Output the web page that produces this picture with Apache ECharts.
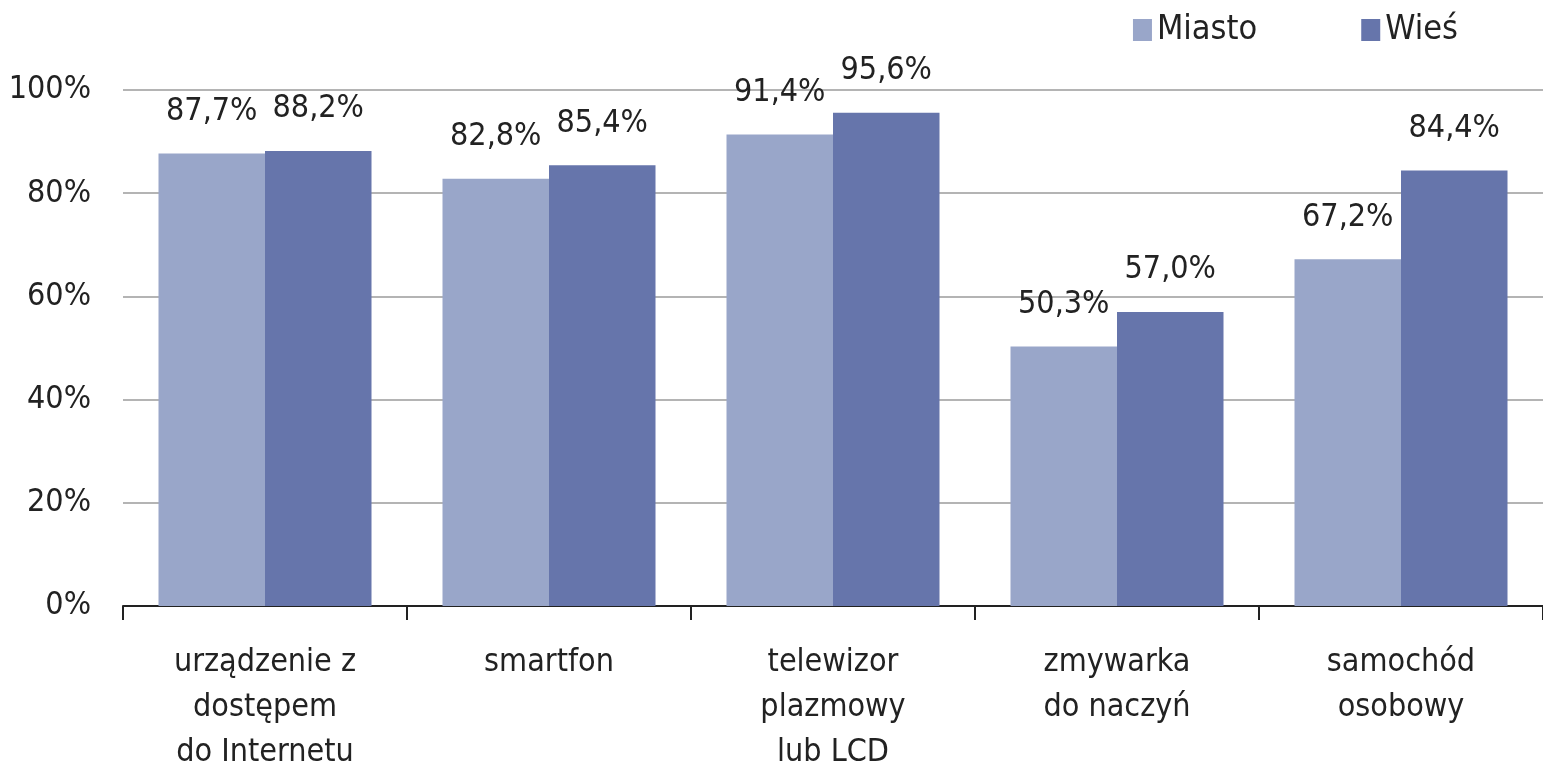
<!DOCTYPE html>
<html>
<head>
<meta charset="utf-8">
<script src="https://cdn.jsdelivr.net/npm/echarts@6/dist/echarts.min.js"></script>
<style>
  html, body { margin: 0; padding: 0; background: #fff; }
  #chart { width: 1543px; height: 769px; }
</style>
</head>
<body>
<div id="chart"></div>
<script>
// kategorie i dane
const categories = [
  'urządzenie z\ndostępem\ndo Internetu',
  'smartfon',
  'telewizor\nplazmowy\nlub LCD',
  'zmywarka\ndo naczyń',
  'samochód\nosobowy'
]
const miasto = [87.7, 82.8, 91.4, 50.3, 67.2]
const wies = [88.2, 85.4, 95.6, 57.0, 84.4]

const font = '"Liberation Sans Narrow", "DejaVu Sans Condensed", "Noto Sans", sans-serif'
const textColor = '#222'
const fs = 32

const fmt = (p) => p.value.toFixed(1).replace('.', ',') + '%'

const chart = echarts.init(document.getElementById('chart'))

chart.setOption({
  animation: false,
  textStyle: { fontFamily: font },
  legend: {
    top: 8,
    right: 80,
    itemWidth: 19,
    itemHeight: 22,
    itemGap: 104,
    icon: 'rect',
    textStyle: { fontFamily: font, fontSize: 34, color: textColor },
    data: ['Miasto', 'Wieś']
  },
  grid: {
    left: 123,
    right: 0,
    top: 90,
    bottom: 163,
    outerBoundsMode: 'none'
  },
  xAxis: {
    type: 'category',
    data: categories,
    axisLine: { lineStyle: { color: '#222', width: 2 } },
    axisTick: { show: true, length: 14, lineStyle: { color: '#222', width: 2 } },
    axisLabel: {
      fontFamily: font,
      fontSize: fs,
      color: textColor,
      lineHeight: 45,
      margin: 34,
      interval: 0
    }
  },
  yAxis: {
    type: 'value',
    min: 0,
    max: 100,
    interval: 20,
    axisLine: { show: false },
    axisTick: { show: false },
    splitLine: { lineStyle: { color: '#b4b4b4', width: 2 } },
    axisLabel: {
      fontFamily: font,
      fontSize: fs,
      color: textColor,
      margin: 32,
      formatter: '{value}%'
    }
  },
  series: [
    {
      name: 'Miasto',
      type: 'bar',
      data: miasto,
      barGap: '0%',
      barCategoryGap: '25%',
      itemStyle: { color: '#99a6c9' },
      label: {
        show: true,
        position: 'top',
        distance: 26,
        fontFamily: font,
        fontSize: fs,
        color: textColor,
        formatter: fmt
      }
    },
    {
      name: 'Wieś',
      type: 'bar',
      data: wies,
      barGap: '0%',
      barCategoryGap: '25%',
      itemStyle: { color: '#6675ab' },
      label: {
        show: true,
        position: 'top',
        distance: 26,
        fontFamily: font,
        fontSize: fs,
        color: textColor,
        formatter: fmt
      }
    }
  ]
})
</script>
</body>
</html>
